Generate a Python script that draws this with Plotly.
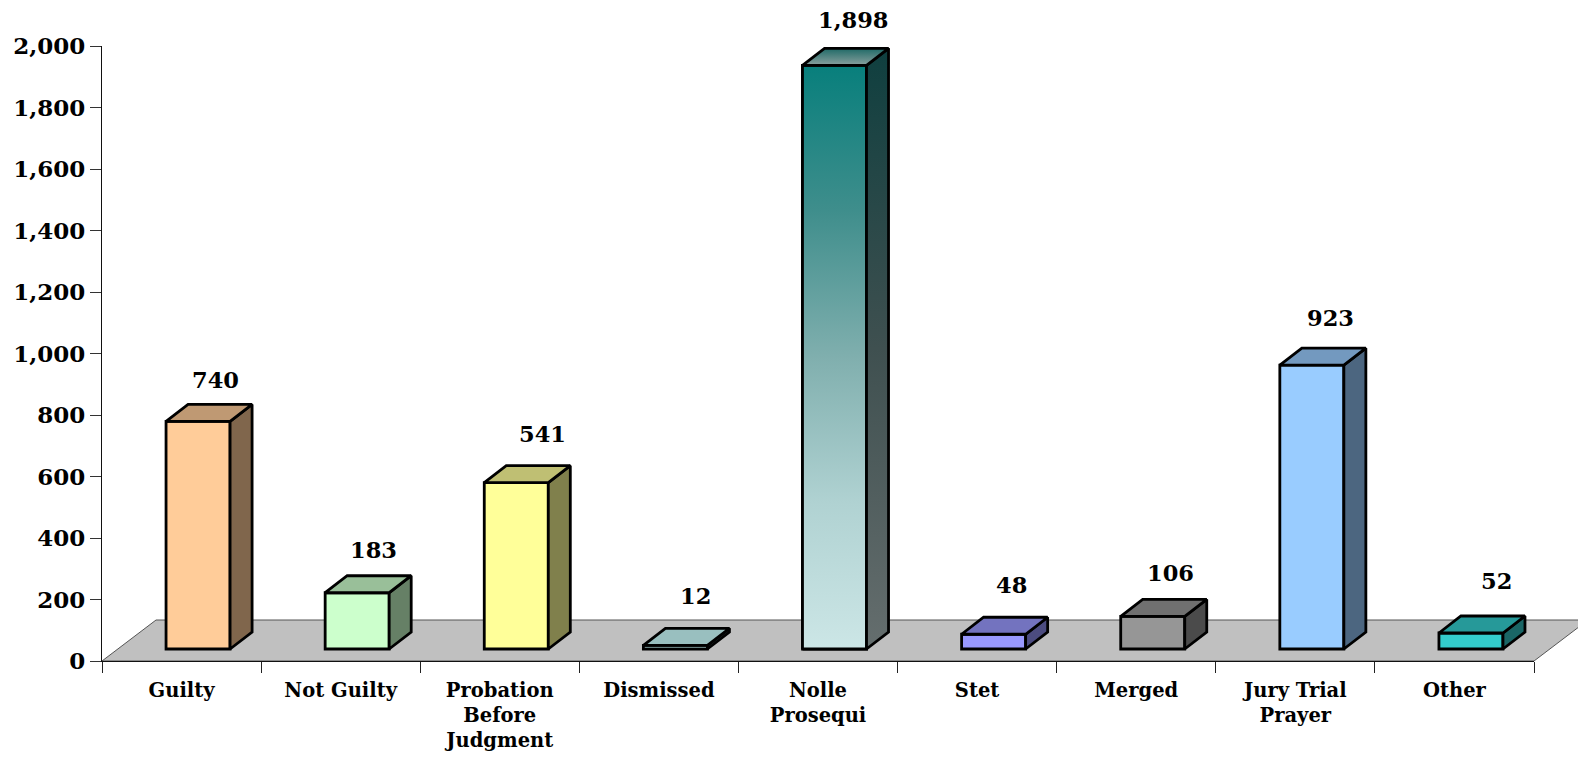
import plotly.graph_objects as go

categories = ["Guilty", "Not Guilty", "Probation<br>Before<br>Judgment", "Dismissed",
              "Nolle<br>Prosequi", "Stet", "Merged", "Jury Trial<br>Prayer", "Other"]
values = [740, 183, 541, 12, 1898, 48, 106, 923, 52]
front_colors = ["#FFCC99", "#CCFFCC", "#FFFF99", "#CCFFFF", "#CCE6E6",
                "#9999FF", "#969696", "#99CCFF", "#33CCCC"]
y_ticks = list(range(0, 2001, 200))
# per-label nudges of the value labels, in pixels
label_dx = [34, 33, 43, 37, 35, 34, 34, 35, 42]
label_dy = [24, 26, 32, 32, 28, 32, 26, 30, 35]

W, H = 1578, 757
L, R, T, B = 102.3, 1533.7, 46, 661
PX_X = 1 / ((R - L) / 9)       # category units per pixel
PX_Y = 2000 / (B - T)          # value units per pixel
BASE = 12 * PX_Y
DX, DY = 22 * PX_X, 17 * PX_Y
OFFSET, BAR_W = 16.5 * PX_X, 64 * PX_X
LINE = dict(color="black", width=2.8)
FONT = "DejaVu Serif"


def shade(hex_color, k):
    rgb = [int(hex_color[i:i + 2], 16) for i in (1, 3, 5)]
    return "rgb({},{},{})".format(*[round(c * k) for c in rgb])


def faces(i, v):
    x0, x1 = i + OFFSET - BAR_W / 2, i + OFFSET + BAR_W / 2
    y0, y1 = BASE, BASE + v
    front = ([x0, x1, x1, x0, x0], [y0, y0, y1, y1, y0])
    side = ([x1, x1 + DX, x1 + DX, x1, x1], [y0, y0 + DY, y1 + DY, y1, y0])
    top = ([x0, x1, x1 + DX, x0 + DX, x0], [y1, y1, y1 + DY, y1 + DY, y1])
    return front, side, top


fig = go.Figure()
fig.add_trace(go.Bar(
    x=[i + OFFSET for i in range(len(values))], y=values, base=BASE, width=BAR_W,
    marker=dict(color=front_colors, line=LINE), hoverinfo="skip", showlegend=False))

NOLLE = categories.index("Nolle<br>Prosequi")
GRADIENTS = {
    "front": [[0, "#CCE6E6"], [0.25, "#B0D2D2"], [0.5, "#80AFAE"], [0.75, "#3F8E8C"], [1, "#087F7C"]],
    "side": [[0, "#656E6E"], [0.5, "#3F5050"], [1, "#0F3F3F"]],
    "top": [[0, "#8AA09E"], [1, "#1F6A67"]],
}


def poly(xy, **kw):
    fig.add_trace(go.Scatter(x=xy[0], y=xy[1], mode="lines", fill="toself", line=LINE,
                             hoverinfo="skip", showlegend=False, cliponaxis=False, **kw))


def grad(name):
    return dict(type="vertical", colorscale=GRADIENTS[name])


for i, v in enumerate(values):
    front, side, top = faces(i, v)
    if i == NOLLE:
        poly(front, fillgradient=grad("front"))
        poly(side, fillgradient=grad("side"))
        poly(top, fillgradient=grad("top"))
    else:
        poly(side, fillcolor=shade(front_colors[i], 0.5))
        poly(top, fillcolor=shade(front_colors[i], 0.75))

for i, v in enumerate(values):
    fig.add_annotation(x=i, y=BASE + v + DY, text=f"{v:,}", showarrow=False,
                       xshift=label_dx[i], yshift=label_dy[i], xanchor="center", yanchor="middle",
                       font=dict(family=FONT, size=22.5, color="black", weight="bold"))

depth_x, depth_y = 54 / (R - L), 41 / (B - T)
fig.add_shape(type="path", xref="paper", yref="paper", layer="below",
              path=f"M 0 0 L 1 0 L {1 + depth_x} {depth_y} L {depth_x} {depth_y} Z",
              fillcolor="#C0C0C0", line=dict(color="#555555", width=1))

fig.update_layout(
    width=W, height=H, autosize=False,
    margin=dict(l=L, r=W - R, t=T, b=H - B, pad=0, autoexpand=False),
    paper_bgcolor="white", plot_bgcolor="rgba(0,0,0,0)", showlegend=False,
    xaxis=dict(range=[-0.5, 8.5], tickmode="array", tickvals=list(range(9)), ticktext=categories,
               ticks="", ticklabelposition="outside", ticklabelstandoff=11, tickangle=0,
               showgrid=False, zeroline=False,
               showline=True, linecolor="#111111", linewidth=1.3,
               tickfont=dict(family=FONT, size=19.5, color="black", weight="bold"),
               minor=dict(tickmode="array", tickvals=[i - 0.5 for i in range(10)], ticks="outside",
                          ticklen=11, tickwidth=1.2, tickcolor="#222222", showgrid=False)),
    yaxis=dict(range=[0, 2000], tickmode="array", tickvals=y_ticks, tickformat=",",
               ticks="outside", ticklen=11, tickwidth=1.2, tickcolor="#333333",
               showgrid=False, zeroline=False, showline=True, linecolor="#111111", linewidth=1.3,
               tickfont=dict(family=FONT, size=23, color="black", weight="bold")),
)

fig.write_html("out.html", config=dict(displayModeBar=False),
               post_script="document.body.style.margin='0';")
